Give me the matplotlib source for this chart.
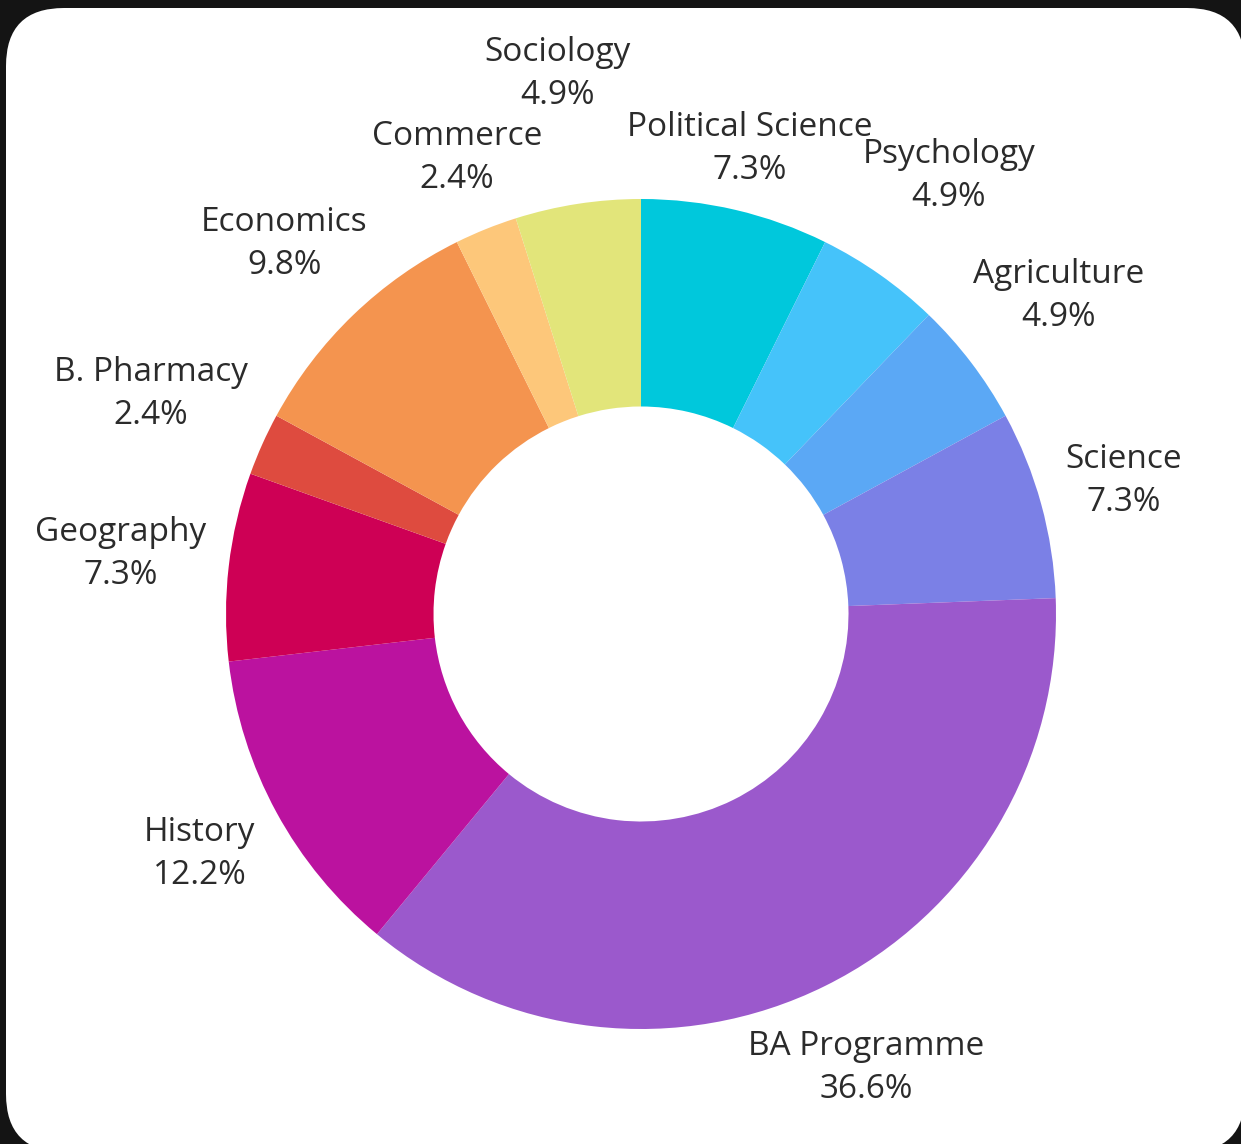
import numpy as np
import matplotlib.pyplot as plt
from matplotlib.patches import FancyBboxPatch

## Course counts (out of 41 responses), clockwise from the top.
courses = ['Political Science', 'Psychology', 'Agriculture', 'Science',
           'BA Programme', 'History', 'Geography', 'B. Pharmacy',
           'Economics', 'Commerce', 'Sociology']
counts = [3, 2, 2, 3, 15, 5, 3, 1, 4, 1, 2]
colors = ['#00C8DC', '#45C3FA', '#5BA8F5', '#7B80E6', '#9B59CC', '#BB129F',
          '#CE0055', '#DE4B3F', '#F4944F', '#FDC77A', '#E2E57A']
# how far out each label sits (in units of the outer radius)
label_dist = [1.15, 1.29, 1.265, 1.205, 1.222, 1.21, 1.262, 1.294, 1.239, 1.185, 1.316]

W, H = 1241, 1144
cx, cy, R = 641, 614, 415

fig = plt.figure(figsize=(W / 100, H / 100), dpi=100)
fig.patch.set_facecolor('#141414')
ax = fig.add_axes([0, 0, 1, 1])
ax.set_aspect('equal')

# white card with rounded corners
x0, y0, x1, y1 = 6, 8, 1245, 1152
card = FancyBboxPatch(((x0 - cx) / R, (cy - y1) / R), (x1 - x0) / R, (y1 - y0) / R,
                      boxstyle='round,pad=0,rounding_size=%f' % (58 / R),
                      facecolor='white', edgecolor='none', zorder=0)
ax.add_patch(card)

wedges, _ = ax.pie(counts, colors=colors, startangle=90, counterclock=False,
                   radius=1.0, wedgeprops=dict(width=0.5, edgecolor='none'),
                   center=(0, 0), frame=False)
ax.set_xlim(-cx / R, (W - cx) / R)
ax.set_ylim(-(H - cy) / R, cy / R)
ax.axis('off')

total = sum(counts)
for w, name, n, d in zip(wedges, courses, counts, label_dist):
    ang = np.deg2rad((w.theta1 + w.theta2) / 2)
    x, y = d * np.cos(ang), d * np.sin(ang)
    ax.text(x, y, '%s\n%.1f%%' % (name, 100 * n / total), ha='center', va='center',
            fontsize=24, family='Open Sans', color='#2b2b2b', linespacing=1.4)

fig.savefig('out.png', dpi=100, facecolor=fig.get_facecolor())
